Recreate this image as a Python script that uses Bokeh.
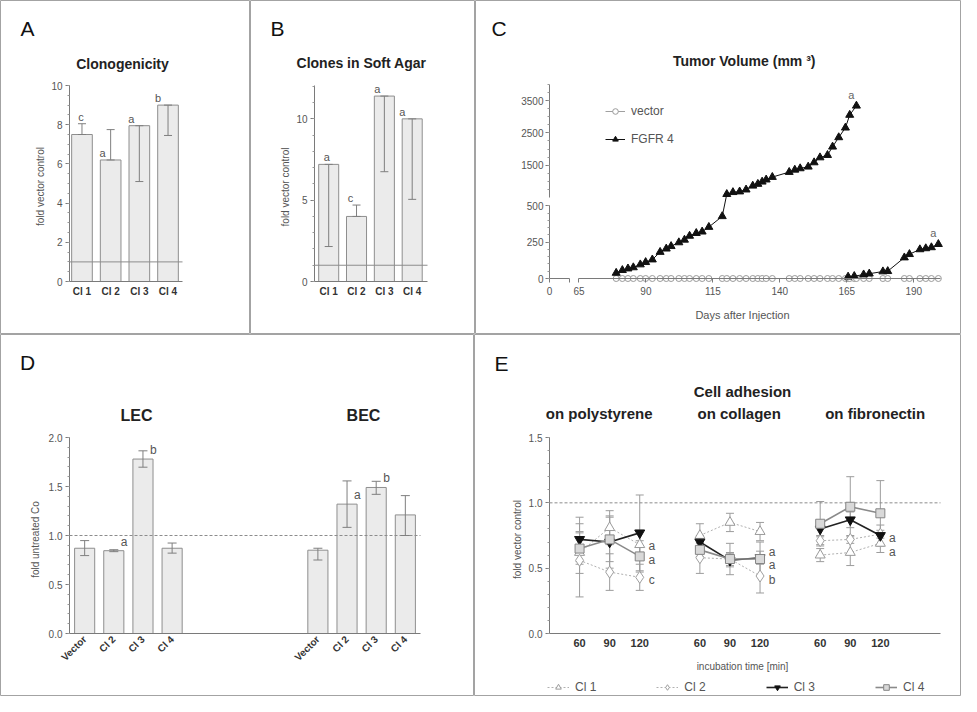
import numpy as np
from bokeh.plotting import figure
from bokeh.models import (ColumnDataSource, Whisker, TeeHead, Label, FixedTicker, LinearAxis,
                          Legend, LegendItem, Range1d, PrintfTickFormatter)
from bokeh.layouts import row, column
from bokeh.embed import file_html
from bokeh.resources import INLINE
from bokeh.core.properties import value

FONT = "Liberation Sans"

# ---------------- data ----------------
# A: Clonogenicity (fold vector control)
a_labels = ["Cl 1", "Cl 2", "Cl 3", "Cl 4"]
a_mean = [7.5, 6.2, 7.95, 9.0]
a_err_low = [7.5, 6.2, 5.1, 7.45]
a_err_high = [8.05, 7.75, 7.95, 9.0]
a_sig = ["c", "a", "a", "b"]

# B: Clones in soft agar (fold vector control)
b_labels = ["Cl 1", "Cl 2", "Cl 3", "Cl 4"]
b_mean = [7.2, 4.0, 11.4, 10.0]
b_err_low = [2.15, 4.0, 6.75, 5.05]
b_err_high = [7.2, 4.7, 11.4, 10.0]
b_sig = ["a", "c", "a", "a"]

# C: Tumor volume (mm3) vs days after injection
c_fgfr4_days_1 = [78.9, 81.2, 83.3, 85.3, 87.9, 89.9, 92.4, 95.3, 97.6, 99.4, 102.3, 104.4,
                  106.3, 108.8, 111.0, 113.5, 118.5, 120.2, 122.5, 125.0, 127.4, 129.9, 131.8,
                  133.4, 134.9, 137.2, 143.5, 145.6, 147.6, 150.6, 152.8, 155.0, 157.8, 159.7,
                  162.0, 164.5, 166.1, 168.6]
c_fgfr4_vol_1 = [38, 57, 68, 76, 96, 112, 130, 182, 205, 222, 248, 266,
                 293, 312, 322, 354, 428, 600, 660, 680, 740, 860, 915,
                 985, 1050, 1130, 1285, 1355, 1398, 1450, 1583, 1737, 1810, 2070,
                 2360, 2660, 3055, 3340]
c_fgfr4_days_2 = [165.5, 167.8, 171.3, 173.4, 178.5, 180.3, 186.5, 188.4, 192.3, 194.5, 196.6, 199.2]
c_fgfr4_vol_2 = [12, 16, 27, 33, 48, 50, 144, 167, 200, 207, 214, 236]
c_vector_days = sorted(set(c_fgfr4_days_1 + c_fgfr4_days_2))
c_vector_vol = [0] * len(c_vector_days)
c_sig = ["a", "a"]

# D: fold untreated Co
d_labels = ["Vector", "Cl 2", "Cl 3", "Cl 4"]
d_groups = ["LEC", "BEC"]
d_lec_mean = [0.87, 0.845, 1.78, 0.87]
d_lec_low = [0.795, 0.835, 1.697, 0.82]
d_lec_high = [0.948, 0.855, 1.864, 0.923]
d_bec_mean = [0.85, 1.32, 1.49, 1.21]
d_bec_low = [0.75, 1.083, 1.42, 1.0]
d_bec_high = [0.87, 1.557, 1.553, 1.407]
d_lec_sig = ["", "a", "b", ""]
d_bec_sig = ["", "a", "b", ""]

# E: cell adhesion (fold vector control), 60/90/120 min on three surfaces
e_times = ["60", "90", "120"]
e_surfaces = ["on polystyrene", "on collagen", "on fibronectin"]
e_clones = ["Cl 1", "Cl 2", "Cl 3", "Cl 4"]
e_cl1_mean = [0.62, 0.81, 0.68, 0.75, 0.85, 0.78, 0.60, 0.62, 0.69]
e_cl1_err = [0.16, 0.13, 0.11, 0.09, 0.07, 0.07, 0.05, 0.10, 0.07]
e_cl2_mean = [0.56, 0.47, 0.43, 0.58, 0.57, 0.44, 0.71, 0.72, 0.76]
e_cl2_err = [0.28, 0.14, 0.10, 0.12, 0.12, 0.13, 0.03, 0.03, 0.03]
e_cl3_mean = [0.72, 0.70, 0.77, 0.70, 0.56, 0.58, 0.80, 0.87, 0.75]
e_cl3_err = [0.17, 0.20, 0.29, 0.05, 0.05, 0.05, 0.05, 0.06, 0.08]
e_cl4_mean = [0.65, 0.72, 0.59, 0.64, 0.57, 0.57, 0.84, 0.97, 0.92]
e_cl4_err = [0.12, 0.17, 0.12, 0.05, 0.05, 0.13, 0.17, 0.23, 0.25]
# significance letters: (surface index, clone index, letter)
e_sig = [(0, 0, "a"), (0, 3, "a"), (0, 1, "c"),
         (1, 2, "a"), (1, 3, "a"), (1, 1, "b"),
         (2, 2, "a"), (2, 0, "a")]

# ---------------- styles / layout ----------------
BAR_FILL = "#ebebeb"
BAR_LINE = "#8e8e8e"
ERR_COL = "#7f7f7f"
AX_COL = "#7a7a7a"
TICK_TXT = "#555555"
BORDER = "#a3a3a3"

# panel boxes on the page (left, top, width, height) and plot areas (left, top, right, bottom)
PANEL_A, AREA_A = (8, 8, 250, 334), (77, 93, 190, 289)
PANEL_B, AREA_B = (258, 8, 225, 334), (322, 93, 435, 289)
PANEL_C, AREA_C = (483, 8, 486, 334), (557, 92, 948, 286)
PANEL_D, AREA_D = (8, 342, 474, 362), (77, 445, 428, 641)
PANEL_E, AREA_E = (482, 342, 487, 362), (557, 445, 948, 641)


def make_panel(panel, area, xlim, ylim):
    L, T, W, H = panel
    l, t, r, b = area
    ux = (xlim[1] - xlim[0]) / (r - l)
    uy = (ylim[1] - ylim[0]) / (b - t)
    xr = Range1d(xlim[0] - (l - L) * ux, xlim[1] + (L + W - r) * ux)
    yr = Range1d(ylim[0] - (T + H - b) * uy, ylim[1] + (t - T) * uy)
    p = figure(width=W, height=H, x_range=xr, y_range=yr, output_backend="svg",
               toolbar_location=None, min_border=0, min_border_left=0, min_border_right=0,
               min_border_top=0, min_border_bottom=0)
    p.outline_line_color = BORDER
    p.outline_line_width = 1
    p.xgrid.visible = False
    p.ygrid.visible = False
    style_axis(p.xaxis[0], ylim[0], xlim)
    style_axis(p.yaxis[0], xlim[0], ylim)
    return p


def style_axis(ax, loc, bounds):
    ax.fixed_location = loc
    ax.bounds = tuple(bounds)
    ax.axis_line_color = AX_COL
    ax.major_tick_line_color = AX_COL
    ax.minor_tick_line_color = "#9a9a9a"
    ax.major_tick_in = 0
    ax.major_tick_out = 4
    ax.minor_tick_in = 0
    ax.minor_tick_out = 2
    ax.major_label_text_font = FONT
    ax.major_label_text_font_size = "10px"
    ax.major_label_text_color = TICK_TXT
    ax.major_label_standoff = 3


def put(p, panel, X, Y, text, size, style="normal", color="#222222", angle=0.0):
    L, T, W, H = panel
    p.add_layout(Label(x=X - L, y=T + H - Y, x_units="screen", y_units="screen", text=text,
                       text_font=FONT, text_font_size=size, text_font_style=style,
                       text_color=color, text_align="center", text_baseline="middle",
                       angle=angle))


def add_err(p, src, color=ERR_COL, size=8, level="overlay"):
    w = Whisker(source=src, base="x", lower="lo", upper="hi", line_color=color, line_width=1,
                upper_head=TeeHead(size=size, line_color=color, line_width=1),
                lower_head=TeeHead(size=size, line_color=color, line_width=1), level=level)
    p.add_layout(w)


def ref_line(p, xlim, level, dash="solid"):
    p.line(x=list(xlim), y=[level, level], line_color="#8c8c8c", line_width=1, line_dash=dash)


def cat_xaxis(p, xs, labels, size="10px", color="#333333", standoff=4):
    ax = p.xaxis[0]
    ax.ticker = FixedTicker(ticks=list(xs), minor_ticks=[])
    ax.major_label_overrides = {x: l for x, l in zip(xs, labels)}
    ax.major_tick_line_color = None
    ax.major_tick_out = 0
    ax.major_label_text_font_style = "bold"
    ax.major_label_text_font_size = size
    ax.major_label_text_color = color
    ax.major_label_standoff = standoff


def bar_panel(panel, area, xlim, ylim, labels, mean, lo, hi, sig, yticks, minor_step,
              letter_anchor, letter_dx):
    p = make_panel(panel, area, xlim, ylim)
    xs = list(range(1, len(labels) + 1))
    ref_line(p, xlim, 1)
    src = ColumnDataSource(dict(x=xs, top=mean, lo=lo, hi=hi))
    p.vbar(x="x", top="top", width=0.72, bottom=0, source=src,
           fill_color=BAR_FILL, line_color=BAR_LINE, line_width=1, level="underlay")
    add_err(p, src)
    ssrc = ColumnDataSource(dict(x=xs, y=letter_anchor, t=sig, dx=letter_dx))
    p.text(x="x", y="y", text="t", x_offset="dx", y_offset=-1, source=ssrc,
           text_font=value(FONT), text_font_size=value("11px"), text_color="#555555",
           text_align="center", text_baseline="bottom")
    p.yaxis[0].ticker = FixedTicker(ticks=yticks,
                                    minor_ticks=list(np.arange(ylim[0], ylim[1] + 1e-9, minor_step)))
    cat_xaxis(p, xs, labels)
    return p


# ---------------- A ----------------
A_X, A_Y = (0.565, 4.505), (0, 10)
pA = bar_panel(PANEL_A, AREA_A, A_X, A_Y, a_labels, a_mean, a_err_low, a_err_high, a_sig,
               [0, 2, 4, 6, 8, 10], 0.5,
               [a_err_high[0], a_mean[1], a_mean[2], a_mean[3]], [-1, -8, -8, -10])
put(pA, PANEL_A, 35, 36, "A", "21px", color="#111111")
put(pA, PANEL_A, 130, 71, "Clonogenicity", "14px", style="bold")
put(pA, PANEL_A, 48, 194, "fold vector control", "10px", color="#555555", angle=np.pi / 2)

# ---------------- B ----------------
B_X, B_Y = (0.49, 4.55), (0, 12.05)
pB = bar_panel(PANEL_B, AREA_B, B_X, B_Y, b_labels, b_mean, b_err_low, b_err_high, b_sig,
               [0, 5, 10], 1.0,
               [b_mean[0], b_err_high[1], b_mean[2], b_mean[3]], [-2, -6, -7, -10])
put(pB, PANEL_B, 285, 35.5, "B", "21px", color="#111111")
put(pB, PANEL_B, 369, 70, "Clones in Soft Agar", "14px", style="bold")
put(pB, PANEL_B, 293, 194.5, "fold vector control", "10px", color="#555555", angle=np.pi / 2)

# ---------------- C (broken axes) ----------------
C_X1_END, C_X1_DISP0, C_X1_SCALE = 10, 54.0, 0.75
C_X2_START = 65
C_Y1_END, C_Y2_DISP0, C_Y2_SCALE = 500, 558.0, 0.222
C_X_MAX, C_Y_MAX = 200, 4000


def cx(d):
    d = np.asarray(d, float)
    return np.where(d <= C_X1_END, C_X1_DISP0 + d * C_X1_SCALE, d)


def cy(v):
    v = np.asarray(v, float)
    return np.where(v <= C_Y1_END, v, C_Y2_DISP0 + (v - C_Y1_END) * C_Y2_SCALE)


C_X = (float(cx(0)), float(C_X_MAX))
C_Y = (0.0, float(cy(C_Y_MAX)))
pC = make_panel(PANEL_C, AREA_C, C_X, C_Y)

vsrc = ColumnDataSource(dict(x=cx(c_vector_days), y=cy(c_vector_vol)))
v_line = pC.line("x", "y", source=vsrc, line_color="#a0a0a0", line_width=1)
v_sc = pC.scatter("x", "y", source=vsrc, marker="circle", size=6, fill_color="white",
                  line_color="#9a9a9a", line_width=1)
f1 = ColumnDataSource(dict(x=cx(c_fgfr4_days_1), y=cy(c_fgfr4_vol_1)))
f2 = ColumnDataSource(dict(x=cx(c_fgfr4_days_2), y=cy(c_fgfr4_vol_2)))
f_line = pC.line("x", "y", source=f1, line_color="#111111", line_width=1)
f_sc = pC.scatter("x", "y", source=f1, marker="triangle", size=8, fill_color="#111111",
                  line_color="#111111")
pC.line("x", "y", source=f2, line_color="#111111", line_width=1)
pC.scatter("x", "y", source=f2, marker="triangle", size=8, fill_color="#111111", line_color="#111111")
csig = ColumnDataSource(dict(x=[float(cx(c_fgfr4_days_1[-1])), float(cx(c_fgfr4_days_2[-1]))],
                             y=[float(cy(c_fgfr4_vol_1[-1])), float(cy(c_fgfr4_vol_2[-1]))], t=c_sig))
pC.text(x="x", y="y", text="t", source=csig, x_offset=-5, y_offset=-5,
        text_font=value(FONT), text_font_size=value("11px"), text_color="#666666",
        text_align="center", text_baseline="bottom")

# x axis: two segments
xa1 = pC.xaxis[0]
xa1.bounds = (float(cx(0)), float(cx(C_X1_END)))
xa1.ticker = FixedTicker(ticks=[float(cx(0)), float(cx(C_X1_END))], minor_ticks=[])
xa1.major_label_overrides = {float(cx(0)): "0", float(cx(C_X1_END)): ""}
xa1.major_label_standoff = 4
c_xt = [65, 90, 115, 140, 165, 190]
xa2 = LinearAxis(fixed_location=0.0, bounds=(float(C_X2_START), float(C_X_MAX)),
                 ticker=FixedTicker(ticks=c_xt, minor_ticks=[]))
style_axis(xa2, 0.0, (float(C_X2_START), float(C_X_MAX)))
xa2.major_label_standoff = 4
pC.add_layout(xa2, "below")

# y axis: two segments
c_yv1 = [0, 250, 500]
c_yv2 = [1500, 2500, 3500]
ya1 = pC.yaxis[0]
ya1.bounds = (0.0, float(C_Y1_END))
ya1.ticker = FixedTicker(ticks=c_yv1, minor_ticks=list(range(0, C_Y1_END + 1, 50)))
ya1.major_label_standoff = 2
c_yt2 = [float(v) for v in cy(c_yv2)]
ya2 = LinearAxis()
style_axis(ya2, float(cx(0)), (C_Y2_DISP0, float(cy(C_Y_MAX))))
ya2.ticker = FixedTicker(ticks=c_yt2,
                         minor_ticks=[float(v) for v in cy(list(range(750, C_Y_MAX + 1, 250)))])
ya2.major_label_overrides = {t: str(v) for t, v in zip(c_yt2, c_yv2)}
ya2.major_label_standoff = 2
pC.add_layout(ya2, "left")

legC = Legend(items=[LegendItem(label="vector", renderers=[v_line, v_sc]),
                     LegendItem(label="FGFR 4", renderers=[f_line, f_sc])],
              location=(130, 188), orientation="vertical", spacing=14, padding=0, margin=0,
              glyph_width=20, glyph_height=14, label_height=14, label_standoff=6,
              label_text_font=FONT, label_text_font_size="12px", label_text_color="#555555",
              border_line_color=None, background_fill_alpha=0)
pC.add_layout(legC)
put(pC, PANEL_C, 506.5, 35.5, "C", "21px", color="#111111")
put(pC, PANEL_C, 751.7, 68, "Tumor Volume (mm \u00b3)", "14px", style="bold")
put(pC, PANEL_C, 750, 322.7, "Days after Injection", "11px", color="#555555")

# ---------------- D ----------------
D_X, D_Y = (0.48, 12.52), (0, 2.0)
pD = make_panel(PANEL_D, AREA_D, D_X, D_Y)
d_x_lec = list(np.arange(1, len(d_labels) + 1))
d_x_bec = [x + 8 for x in d_x_lec]
d_x = [int(v) for v in d_x_lec + d_x_bec]
dsrc = ColumnDataSource(dict(x=d_x, top=d_lec_mean + d_bec_mean, lo=d_lec_low + d_bec_low,
                             hi=d_lec_high + d_bec_high, t=d_lec_sig + d_bec_sig))
pD.vbar(x="x", top="top", width=0.69, bottom=0, source=dsrc,
        fill_color=BAR_FILL, line_color=BAR_LINE, line_width=1)
add_err(pD, dsrc, size=9)
ref_line(pD, D_X, 1, dash="3 2")
pD.text(x="x", y="top", text="t", source=dsrc, x_offset=7, y_offset=-2,
        text_font=value(FONT), text_font_size=value("12px"), text_color="#555555",
        text_align="left", text_baseline="bottom")
pD.yaxis[0].ticker = FixedTicker(ticks=[0, 0.5, 1.0, 1.5, 2.0],
                                 minor_ticks=list(np.round(np.arange(0, 2.001, 0.1), 2)))
pD.yaxis[0].formatter = PrintfTickFormatter(format="%.1f")
cat_xaxis(pD, d_x, d_labels + d_labels, standoff=4)
pD.xaxis[0].major_label_orientation = np.pi / 4
put(pD, PANEL_D, 35, 369.5, "D", "21px", color="#111111")
put(pD, PANEL_D, 144, 423, d_groups[0], "16px", style="bold")
put(pD, PANEL_D, 371, 423, d_groups[1], "16px", style="bold")
put(pD, PANEL_D, 43, 547, "fold untreated Co", "10px", color="#555555", angle=np.pi / 2)

# ---------------- E ----------------
E_X, E_Y = (0, 13), (0, 1.5)
pE = make_panel(PANEL_E, AREA_E, E_X, E_Y)
e_x = [1 + 4 * g + t for g in range(len(e_surfaces)) for t in range(len(e_times))]
e_means = [e_cl1_mean, e_cl2_mean, e_cl3_mean, e_cl4_mean]
e_errs = [e_cl1_err, e_cl2_err, e_cl3_err, e_cl4_err]
E_STYLE = [
    dict(marker="triangle", size=10, fill="white", edge="#9a9a9a", lc="#b0b0b0", dash="2 2", lw=1),
    dict(marker="diamond", size=12, fill="white", edge="#a0a0a0", lc="#b0b0b0", dash="2 2", lw=1),
    dict(marker="inverted_triangle", size=10, fill="#111111", edge="#111111", lc="#222222", dash="solid", lw=1.6),
    dict(marker="square", size=9, fill="#d9d9d9", edge="#858585", lc="#8a8a8a", dash="solid", lw=1.6),
]
ref_line(pE, E_X, 1, dash="3 2")
e_items = []
for k in range(len(e_clones)):
    st = E_STYLE[k]
    m = e_means[k]
    er = e_errs[k]
    src = ColumnDataSource(dict(x=e_x, y=m, lo=[a - b for a, b in zip(m, er)],
                                hi=[a + b for a, b in zip(m, er)]))
    add_err(pE, src, color="#9c9c9c", size=8, level="underlay")
    first = None
    for g in range(len(e_surfaces)):
        sl = slice(3 * g, 3 * g + 3)
        r = pE.line(e_x[sl], m[sl], line_color=st["lc"], line_width=st["lw"], line_dash=st["dash"])
        first = first or r
    sc = pE.scatter("x", "y", source=src, marker=st["marker"], size=st["size"],
                    fill_color=st["fill"], line_color=st["edge"], line_width=1)
    e_items.append(LegendItem(label=e_clones[k], renderers=[first, sc]))

E_SIG_DY = [1, 4, 3, -6, 6, 4, 2, 9]
esig_x = [e_x[3 * g + 2] for g, k, _ in e_sig]
esig_y = [e_means[k][3 * g + 2] for g, k, _ in e_sig]
esrc = ColumnDataSource(dict(x=esig_x, y=esig_y, t=[s for _, _, s in e_sig], dy=E_SIG_DY))
pE.text(x="x", y="y", text="t", source=esrc, x_offset=12, y_offset="dy",
        text_font=value(FONT), text_font_size=value("12px"), text_color="#555555",
        text_align="center", text_baseline="middle")
pE.yaxis[0].ticker = FixedTicker(ticks=[0, 0.5, 1.0, 1.5],
                                 minor_ticks=list(np.round(np.arange(0, 1.501, 0.1), 2)))
pE.yaxis[0].formatter = PrintfTickFormatter(format="%.1f")
cat_xaxis(pE, e_x, e_times * len(e_surfaces), size="11px", standoff=5)
legE = Legend(items=e_items, location=(73, 2), orientation="horizontal", spacing=60,
              padding=0, margin=0, glyph_width=22, glyph_height=14, label_height=14,
              label_standoff=6, label_text_font=FONT, label_text_font_size="12px",
              label_text_color="#555555", border_line_color=None, background_fill_alpha=0)
pE.add_layout(legE)
put(pE, PANEL_E, 509, 370.5, "E", "21px", color="#111111")
put(pE, PANEL_E, 750, 399.3, "Cell adhesion", "15px", style="bold")
put(pE, PANEL_E, 606.7, 420.7, e_surfaces[0], "15px", style="bold")
put(pE, PANEL_E, 746.7, 420.7, e_surfaces[1], "15px", style="bold")
put(pE, PANEL_E, 882.7, 420.7, e_surfaces[2], "15px", style="bold")
put(pE, PANEL_E, 525, 547, "fold vector control", "10px", color="#555555", angle=np.pi / 2)
put(pE, PANEL_E, 750, 674, "incubation time [min]", "10px", color="#555555")

layout = column(row(pA, pB, pC), row(pD, pE))
open("out.html", "w").write(file_html(layout, INLINE))
